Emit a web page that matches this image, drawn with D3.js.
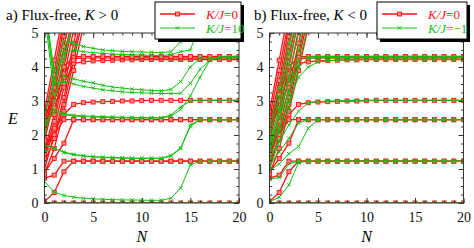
<!DOCTYPE html>
<html>
<head>
<meta charset="utf-8">
<style>
  body { margin: 0; background: #fff; }
  svg { display: block; }
  svg text { font-family: "Liberation Serif", "Times New Roman", Times, "DejaVu Serif", serif; }
</style>
<script src="https://cdn.jsdelivr.net/npm/d3@7"></script>
</head>
<body>
<script>
// N values on the x axis
const nValues = d3.range(0, 21)
const flat = (start, level) => start.concat(Array(21 - start.length).fill(level))

// K/J = 0 (red, same in both panels); lines leaving the top just stop
const redLines = [
  flat([], 0),
  flat([0.04, 0.31, 0.92], 1.23),
  flat([0.73, 0.82], 1.23),
  flat([0.9, 1.31, 1.76], 2.45),
  flat([1.49, 2.0], 2.45),
  flat([1.56, 2.15, 2.6, 2.9, 2.95, 2.97, 2.98, 2.99, 3.0, 3.0, 3.01], 3.02),
  flat([2.15, 2.8, 3.5, 4.11, 4.15, 4.18, 4.19, 4.2, 4.21, 4.21], 4.22),
  flat([2.3, 3.0, 3.8, 4.25, 4.26], 4.27),
  flat([2.45, 3.2, 4.0, 4.3], 4.31),
  [0.85, 1.6, 2.7, 3.9, 5.2],
  [1.0, 2.0, 3.1, 4.4, 5.7],
  [1.2, 1.9, 2.9, 4.2, 5.5],
  [1.3, 2.2, 3.4, 4.7, 6.0],
  [1.45, 2.4, 3.7, 5.1],
  [1.55, 2.6, 4.0, 5.4],
  [1.85, 3.0, 4.3, 5.6],
  [2.0, 3.2, 4.6, 6.0],
  [2.1, 3.4, 4.9, 6.3],
  [2.3, 3.6, 5.2],
  [2.5, 3.9, 5.4],
  [2.7, 4.2, 5.7]
]

// K/J = 10 (green, panel a)
const greenLinesA = [
  flat([], 0),
  flat([0.63, 0.32, 0.22, 0.17, 0.14, 0.12, 0.11, 0.1, 0.09, 0.09, 0.08, 0.08, 0.08, 0.14, 0.44, 1.12], 1.23),
  flat([1.54, 1.6, 1.5, 1.43, 1.39, 1.36, 1.35, 1.34, 1.33, 1.32, 1.32, 1.32, 1.32, 1.4, 1.62, 2.25], 2.45),
  flat([1.7, 1.62, 1.48, 1.42, 1.38, 1.36, 1.34, 1.33, 1.32, 1.31, 1.31, 1.31, 1.31, 1.38, 1.6, 2.3], 2.45),
  flat([2.35, 2.75, 2.63, 2.58, 2.56, 2.55, 2.54, 2.53, 2.52, 2.52, 2.51, 2.51, 2.51, 2.59, 2.82, 3.0], 3.02),
  flat([2.3, 2.65, 2.6, 2.56, 2.54, 2.53, 2.52, 2.51, 2.51, 2.5, 2.5, 2.5, 2.5, 2.55, 2.75, 3.15, 3.7, 4.2], 4.3),
  flat([5.6, 3.18, 3.73, 3.65, 3.58, 3.53, 3.46, 3.41, 3.38, 3.35, 3.33, 3.31, 3.3, 3.34, 3.57, 4.0], 4.27),
  flat([5.8, 3.53, 3.56, 3.5, 3.43, 3.38, 3.33, 3.3, 3.27, 3.25, 3.24, 3.23, 3.22, 3.22, 3.23, 3.52, 3.93, 4.2], 4.3),
  [5.9, 3.88, 4.76, 4.7, 4.6, 4.55, 4.5, 4.48, 4.46, 4.45, 4.44, 4.43, 4.42, 4.45, 4.74, 5.4],
  [6.0, 3.53, 4.4, 4.5, 4.45, 4.42, 4.4, 4.38, 4.37, 4.36, 4.35, 4.34, 4.34, 4.36, 4.45, 4.5, 5.3],
  [2.6, 3.6, 4.5, 5.3],
  [2.0, 3.0, 4.2, 5.4]
]

// K/J = -1 (green, panel b)
const greenLinesB = [
  flat([], 0),
  flat([0.04, 0.17, 0.53, 1.19], 1.23),
  flat([0.7, 0.75, 1.15], 1.23),
  flat([0.95, 1.15, 1.45, 1.66, 2.2], 2.45),
  flat([1.1, 1.5, 1.9, 2.35], 2.45),
  flat([1.3, 1.8, 2.3, 2.7, 2.95, 2.98, 3.0, 3.0, 3.01], 3.02),
  flat([1.55, 2.2, 3.0, 3.7, 4.0, 4.15, 4.18, 4.2, 4.21], 4.22),
  flat([1.7, 2.5, 3.3, 4.0, 4.25], 4.27),
  flat([1.8, 2.7, 3.6, 4.2, 4.3], 4.31),
  [1.0, 1.8, 2.8, 4.0, 5.3],
  [1.25, 2.1, 3.2, 4.5, 5.8],
  [1.5, 2.5, 3.7, 5.0, 6.2],
  [1.65, 2.8, 4.1, 5.4],
  [2.0, 3.1, 4.4, 5.7],
  [2.2, 3.4, 4.7, 6.0]
]

const xTicks = [0, 5, 10, 15, 20]
const yTicks = [0, 1, 2, 3, 4, 5]

const panels = [
  { title: 'a) Flux-free, ', sign: ' > 0', left: 44.5, right: 239, titleX: 6, green: greenLinesA,
    legend: { x: 155, w: 86, label: '=10' } },
  { title: 'b) Flux-free, ', sign: ' < 0', left: 269.5, right: 463.5, titleX: 254, green: greenLinesB,
    legend: { x: 377, w: 90, label: '=\u22121' } }
]

const W = 474, H = 248, plotTop = 33, plotBottom = 203
const RED = '#ff1010', GREEN = '#10c010'
const FONT = '"Liberation Serif", "Times New Roman", Times, "DejaVu Serif", serif'

const svg = d3.select('body').append('svg').attr('width', W).attr('height', H)
  .attr('font-family', FONT)

panels.forEach((p, i) => {
  const x = d3.scaleLinear().domain([0, 20]).range([p.left, p.right])
  const y = d3.scaleLinear().domain([0, 5]).range([plotBottom, plotTop])
  const g = svg.append('g')

  g.append('clipPath').attr('id', 'clip' + i)
    .append('rect').attr('x', p.left).attr('y', plotTop)
    .attr('width', p.right - p.left).attr('height', plotBottom - plotTop)

  const line = d3.line().x((d, j) => x(nValues[j])).y(d => y(d))
  const plot = g.append('g').attr('clip-path', `url(#clip${i})`)

  // red series
  redLines.forEach(s => {
    plot.append('path').attr('d', line(s)).attr('fill', 'none')
      .attr('stroke', RED).attr('stroke-width', 1.3)
  })
  redLines.forEach(s => {
    plot.selectAll(null).data(s).join('rect')
      .attr('x', (d, j) => x(nValues[j]) - 2).attr('y', d => y(d) - 2)
      .attr('width', 4).attr('height', 4)
      .attr('fill', '#ff8a8a').attr('stroke', RED).attr('stroke-width', 0.9)
  })
  // green series
  p.green.forEach(s => {
    plot.append('path').attr('d', line(s)).attr('fill', 'none')
      .attr('stroke', GREEN).attr('stroke-width', 1)
  })
  p.green.forEach(s => {
    plot.selectAll(null).data(s).join('path')
      .attr('d', (d, j) => {
        const cx = x(nValues[j]), cy = y(d), r = 1.8
        return `M${cx - r},${cy - r}L${cx + r},${cy + r}M${cx - r},${cy + r}L${cx + r},${cy - r}`
      })
      .attr('stroke', GREEN).attr('stroke-width', 0.9)
  })

  // axes: inward ticks on all four sides
  const styleAxis = sel => {
    sel.attr('font-family', FONT)
    sel.select('.domain').remove()
    sel.selectAll('line').attr('stroke', '#333')
    sel.selectAll('text').attr('font-size', 14).attr('fill', '#111')
  }
  const fmt = d3.format('d')
  g.append('g').attr('transform', `translate(0,${plotBottom})`)
    .call(d3.axisBottom(x).tickValues(d3.range(0, 21)).tickSize(-2.5).tickFormat(''))
    .call(styleAxis)
  g.append('g').attr('transform', `translate(0,${plotBottom})`)
    .call(d3.axisBottom(x).tickValues(xTicks).tickSize(-5).tickPadding(9).tickFormat(fmt))
    .call(styleAxis)
  g.append('g').attr('transform', `translate(0,${plotTop})`)
    .call(d3.axisTop(x).tickValues(d3.range(0, 21)).tickSize(-2.5).tickFormat(''))
    .call(styleAxis)
  g.append('g').attr('transform', `translate(0,${plotTop})`)
    .call(d3.axisTop(x).tickValues(xTicks).tickSize(-5).tickFormat(''))
    .call(styleAxis)
  g.append('g').attr('transform', `translate(${p.left},0)`)
    .call(d3.axisLeft(y).tickValues(d3.range(0, 5.01, 0.25)).tickSize(-2.5).tickFormat(''))
    .call(styleAxis)
  g.append('g').attr('transform', `translate(${p.left},0)`)
    .call(d3.axisLeft(y).tickValues(yTicks).tickSize(-5).tickPadding(6).tickFormat(fmt))
    .call(styleAxis)
  g.append('g').attr('transform', `translate(${p.right},0)`)
    .call(d3.axisRight(y).tickValues(d3.range(0, 5.01, 0.25)).tickSize(-2.5).tickFormat(''))
    .call(styleAxis)
  g.append('g').attr('transform', `translate(${p.right},0)`)
    .call(d3.axisRight(y).tickValues(yTicks).tickSize(-5).tickFormat(''))
    .call(styleAxis)

  g.append('rect').attr('x', p.left).attr('y', plotTop)
    .attr('width', p.right - p.left).attr('height', plotBottom - plotTop)
    .attr('fill', 'none').attr('stroke', '#333').attr('stroke-width', 1)

  // x label
  g.append('text').attr('x', (p.left + p.right) / 2).attr('y', 242)
    .attr('text-anchor', 'middle').attr('font-size', 16).attr('font-style', 'italic').text('N')

  // title
  const t = g.append('text').attr('x', p.titleX).attr('y', 20).attr('font-size', 15)
  t.append('tspan').text(p.title)
  t.append('tspan').attr('font-style', 'italic').text('K')
  t.append('tspan').text(p.sign)

  // legend with shadow
  const L = p.legend
  g.append('rect').attr('x', L.x + 3).attr('y', 5).attr('width', L.w).attr('height', 37).attr('fill', '#000')
  g.append('rect').attr('x', L.x).attr('y', 2).attr('width', L.w).attr('height', 37)
    .attr('fill', '#fff').attr('stroke', '#000').attr('stroke-width', 1)
  const entries = [{ c: RED, y: 14, v: '=0', m: 'sq' }, { c: GREEN, y: 28, v: L.label, m: 'x' }]
  entries.forEach(e => {
    const x0 = L.x + 5, x1 = L.x + 40, xm = (x0 + x1) / 2
    g.append('line').attr('x1', x0).attr('x2', x1).attr('y1', e.y).attr('y2', e.y)
      .attr('stroke', e.c).attr('stroke-width', e.m === 'sq' ? 1.3 : 1)
    if (e.m === 'sq') {
      g.append('rect').attr('x', xm - 2).attr('y', e.y - 2).attr('width', 4).attr('height', 4)
        .attr('fill', '#ff8a8a').attr('stroke', RED).attr('stroke-width', 0.9)
    } else {
      g.append('path').attr('d', `M${xm - 1.8},${e.y - 1.8}L${xm + 1.8},${e.y + 1.8}M${xm - 1.8},${e.y + 1.8}L${xm + 1.8},${e.y - 1.8}`)
        .attr('stroke', GREEN).attr('stroke-width', 0.9)
    }
    const lt = g.append('text').attr('x', L.x + 51).attr('y', e.y + 4.5).attr('font-size', 13).attr('fill', e.c)
    lt.append('tspan').attr('font-style', 'italic').text('K/J')
    lt.append('tspan').text(e.v)
  })
})

// y label
svg.append('text').attr('x', 13).attr('y', 124).attr('text-anchor', 'middle')
  .attr('font-size', 16).attr('font-style', 'italic').text('E')
</script>
</body>
</html>
